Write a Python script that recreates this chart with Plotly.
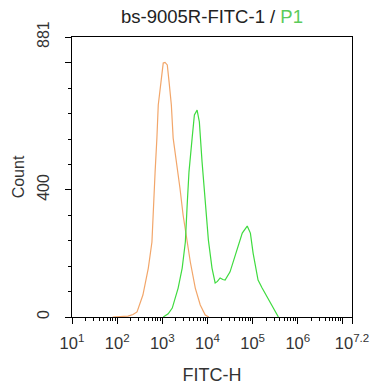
import plotly.graph_objects as go

# ---- data (log10 of FITC-H, count) ----
orange_log = [1.9, 2.1, 2.24, 2.35, 2.44, 2.57, 2.69, 2.77, 2.80, 2.84, 2.88, 2.91, 2.97, 3.02,
              3.06, 3.11, 3.15, 3.20, 3.24, 3.33, 3.39, 3.46, 3.55, 3.62, 3.73, 3.84, 3.95, 4.03]
orange_cnt = [0, 1, 3, 8, 16, 69, 154, 236, 352, 456, 563, 667, 739, 799,
              801, 793, 739, 667, 563, 478, 406, 321, 236, 173, 91, 38, 6, 0]

green_log = [3.02, 3.13, 3.22, 3.35, 3.44, 3.51, 3.55, 3.59, 3.66, 3.71, 3.77, 3.82, 3.88, 3.95,
             4.02, 4.10, 4.17, 4.22, 4.28, 4.34, 4.39, 4.50, 4.66, 4.77, 4.88, 4.95, 5.01, 5.12,
             5.21, 5.32, 5.43, 5.57]
green_cnt = [0, 10, 28, 91, 154, 236, 352, 456, 563, 636, 651, 614, 488, 360,
             242, 154, 107, 112, 123, 118, 116, 142, 211, 264, 286, 264, 201, 116,
             91, 63, 31, 0]

x_major_vals = [1e1, 1e2, 1e3, 1e4, 1e5, 1e6, 1e7, 10 ** 7.2]
x_major_text = ["10<sup>1</sup>", "10<sup>2</sup>", "10<sup>3</sup>", "10<sup>4</sup>",
                "10<sup>5</sup>", "10<sup>6</sup>", "", "10<sup>7.2</sup>"]
x_minor_vals = [m * 10 ** e for e in range(1, 7) for m in range(2, 10)]

y_major_vals = [0, 400, 800, 881]
y_major_text = ["0", "400", "", "881"]
y_minor_vals = [80, 160, 240, 320, 480, 560, 640, 720]

title_main = "bs-9005R-FITC-1 / "
title_gate = "P1"

fig = go.Figure()
fig.add_trace(go.Scatter(x=[10 ** v for v in orange_log], y=orange_cnt, mode="lines",
                         line=dict(color="#F2A66A", width=1.2), showlegend=False))
fig.add_trace(go.Scatter(x=[10 ** v for v in green_log], y=green_cnt, mode="lines",
                         line=dict(color="#3FDB3F", width=1.2), showlegend=False))

font = "Liberation Sans, Arial, sans-serif"
fig.update_layout(
    width=375, height=385,
    margin=dict(l=72, r=22.5, t=37, b=68, autoexpand=False),
    paper_bgcolor="white", plot_bgcolor="white",
    font=dict(family=font, color="#333333"),
    title=dict(text=title_main + "<span style='color:#5BCB5B'>" + title_gate + "</span>",
               x=0.5, xref="paper", y=1 - 17 / 385, yanchor="middle",
               font=dict(size=18.5, color="#222222", family=font)),
)
fig.update_xaxes(
    type="log", range=[1, 7.2], showgrid=False, zeroline=False, automargin=False,
    showline=True, linecolor="black", linewidth=1, mirror=True,
    tickmode="array", tickvals=x_major_vals, ticktext=x_major_text,
    ticks="outside", ticklen=6, tickcolor="black", tickwidth=1,
    tickfont=dict(size=16.5, color="#333333"), ticklabelstandoff=5,
    minor=dict(tickmode="array", tickvals=x_minor_vals, ticks="outside", ticklen=3,
               tickcolor="black", tickwidth=1, showgrid=False),
    title=dict(text="FITC-H", font=dict(size=18, color="#333333"), standoff=18),
)
fig.update_yaxes(
    range=[0, 881], showgrid=False, zeroline=False, automargin=False,
    showline=True, linecolor="black", linewidth=1, mirror=True,
    tickmode="array", tickvals=y_major_vals, ticktext=y_major_text,
    ticks="outside", ticklen=6, tickcolor="black", tickwidth=1,
    tickangle=-90, tickfont=dict(size=16, color="#333333"), ticklabelstandoff=10,
    minor=dict(tickmode="array", tickvals=y_minor_vals, ticks="outside", ticklen=3,
               tickcolor="black", tickwidth=1, showgrid=False),
    title=dict(text="Count", font=dict(size=16, color="#333333"), standoff=5),
)

fig.write_html("out.html", config={"displayModeBar": False},
               post_script="document.body.style.margin='0';document.body.style.overflow='hidden';")
